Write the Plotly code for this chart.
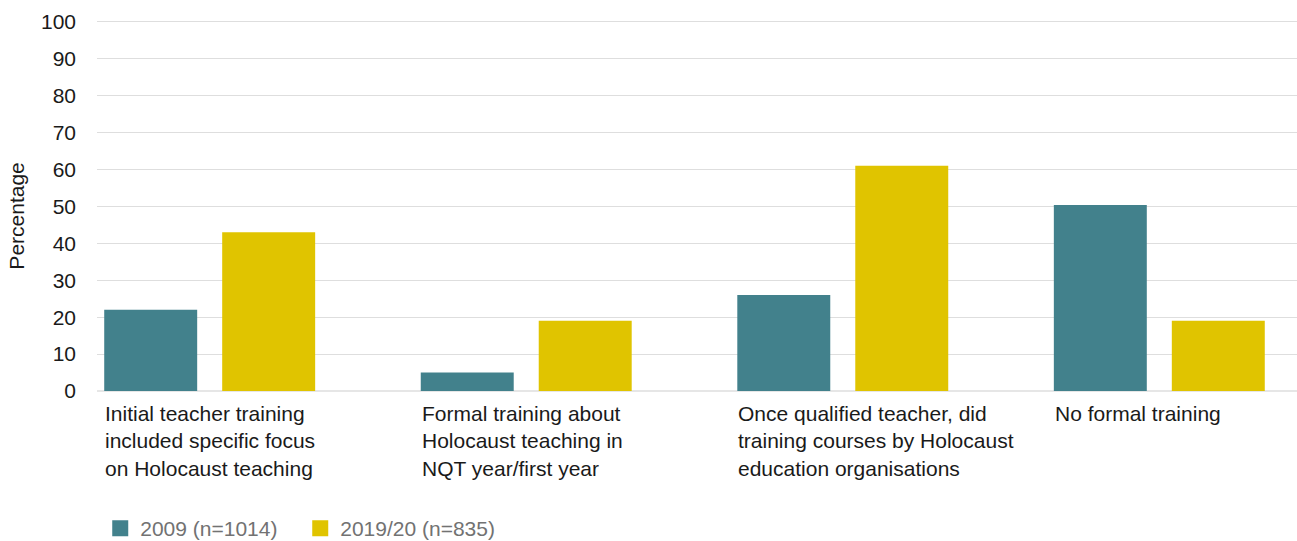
import plotly.graph_objects as go

categories = [
    "Initial teacher training included specific focus on Holocaust teaching",
    "Formal training about Holocaust teaching in NQT year/first year",
    "Once qualified teacher, did training courses by Holocaust education organisations",
    "No formal training",
]
category_labels = [
    "Initial teacher training<br>included specific focus<br>on Holocaust teaching",
    "Formal training about<br>Holocaust teaching in<br>NQT year/first year",
    "Once qualified teacher, did<br>training courses by Holocaust<br>education organisations",
    "No formal training",
]
series_names = ["2009 (n=1014)", "2019/20 (n=835)"]
values_2009 = [22, 5, 26, 50.4]
values_2019 = [43, 19, 61, 19]
y_ticks = [0, 10, 20, 30, 40, 50, 60, 70, 80, 90, 100]

TEAL = "#42818c"
YELLOW = "#e0c400"
FONT = "Liberation Sans, Arial, Helvetica, sans-serif"

fig = go.Figure()
for name, vals, col in [(series_names[0], values_2009, TEAL),
                        (series_names[1], values_2019, YELLOW)]:
    fig.add_trace(go.Bar(x=categories, y=vals, name=name, marker_color=col,
                         marker_line_width=0, showlegend=False))
# legend proxies (larger square swatches)
for name, col in [(series_names[0], TEAL), (series_names[1], YELLOW)]:
    fig.add_trace(go.Scatter(x=[None], y=[None], mode="markers", name=name,
                             marker=dict(symbol="square", size=16, color=col)))

annotations = []
for cat, lab in zip(categories, category_labels):
    annotations.append(dict(x=cat, xref="x", y=0, yref="y", text=lab,
                            showarrow=False, xanchor="left", yanchor="top",
                            align="left", xshift=-106.5, yshift=-9,
                            font=dict(family=FONT, size=21, color="#1a1a1a")))
annotations.append(dict(x=0, xref="paper", y=0.47, yref="paper", text="Percentage",
                        textangle=-90, showarrow=False, xanchor="center",
                        yanchor="middle", xshift=-80,
                        font=dict(family=FONT, size=21, color="#1a1a1a")))

fig.update_layout(
    width=1297, height=541,
    margin=dict(l=97, r=0, t=20, b=150, autoexpand=False),
    paper_bgcolor="white", plot_bgcolor="white",
    barmode="group", bargap=0.2546, bargroupgap=0.212,
    font=dict(family=FONT, size=21, color="#1a1a1a"),
    annotations=annotations,
    legend=dict(orientation="h", x=0.0027, xanchor="left", y=-0.371, yanchor="middle",
                entrywidth=155, entrywidthmode="pixels",
                font=dict(family=FONT, size=21, color="#727272"),
                bgcolor="rgba(0,0,0,0)", itemclick=False),
    hovermode=False,
)
fig.update_xaxes(range=[-0.356, 3.435], showticklabels=False, showgrid=False,
                 zeroline=False, showline=False, ticks="", automargin=False)
fig.update_yaxes(range=[0, 100.5], tickvals=y_ticks, showgrid=True, gridcolor="#dedede",
                 gridwidth=1, zeroline=True, zerolinecolor="#e6e6e6", zerolinewidth=2,
                 showline=False, ticks="", ticklabelstandoff=20, automargin=False,
                 tickfont=dict(family=FONT, size=21, color="#1a1a1a"))

# remove the default page margin so the figure fills the window exactly
fig.write_html("out.html",
               config={"displayModeBar": False},
               post_script="document.body.style.margin='0';"
                           "document.body.style.overflow='hidden';")
